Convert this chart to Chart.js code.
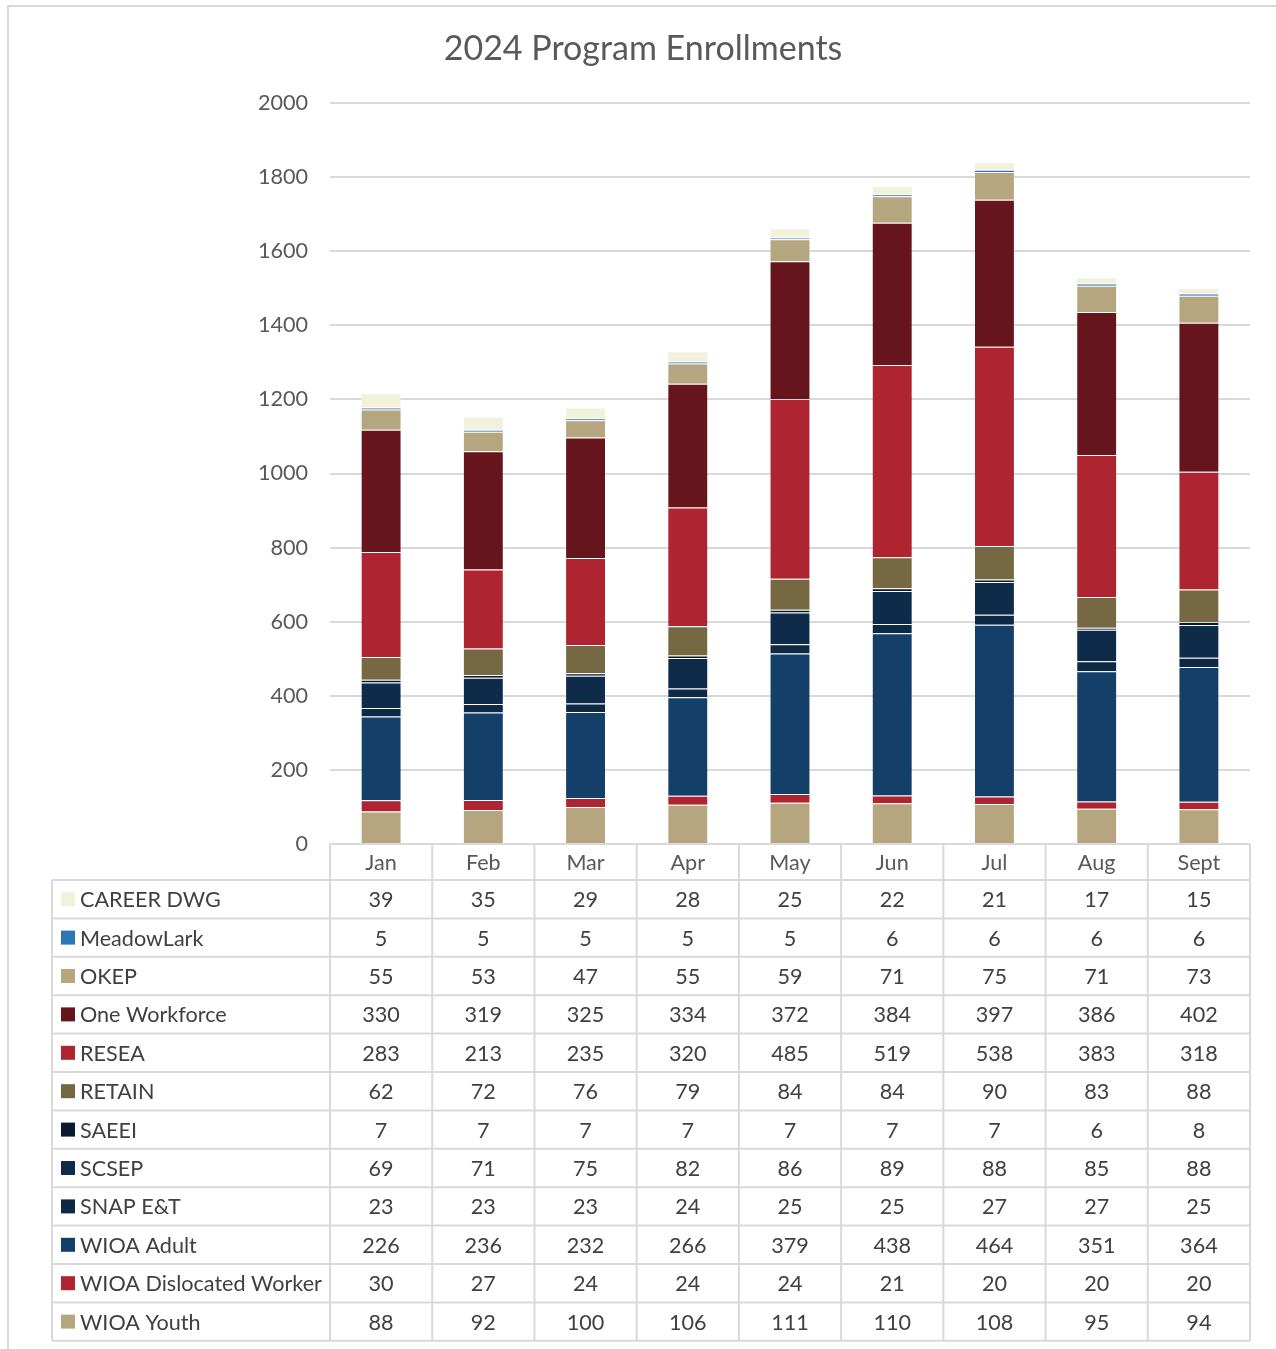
<!DOCTYPE html>
<html>
<head>
<meta charset="utf-8">
<title>2024 Program Enrollments</title>
<script src="https://cdn.jsdelivr.net/npm/chart.js"></script>
<style>
    body { margin: 0; background: #fff; }
    #wrap { position: relative; width: 1276px; height: 1349px; }
    #frame { position: absolute; left: 7px; top: 5px; right: 0; bottom: 0;
             border-left: 2px solid #d9d9d9; border-top: 2px solid #d9d9d9; pointer-events: none; }
</style>
</head>
<body>
<div id="wrap">
    <canvas id="enrollChart"></canvas>
    <div id="frame"></div>
</div>
<script>
var months = ['Jan', 'Feb', 'Mar', 'Apr', 'May', 'Jun', 'Jul', 'Aug', 'Sept'];

var careerDwg = [39, 35, 29, 28, 25, 22, 21, 17, 15];
var meadowLark = [5, 5, 5, 5, 5, 6, 6, 6, 6];
var okep = [55, 53, 47, 55, 59, 71, 75, 71, 73];
var oneWorkforce = [330, 319, 325, 334, 372, 384, 397, 386, 402];
var resea = [283, 213, 235, 320, 485, 519, 538, 383, 318];
var retain = [62, 72, 76, 79, 84, 84, 90, 83, 88];
var saeei = [7, 7, 7, 7, 7, 7, 7, 6, 8];
var scsep = [69, 71, 75, 82, 86, 89, 88, 85, 88];
var snapEt = [23, 23, 23, 24, 25, 25, 27, 27, 25];
var wioaAdult = [226, 236, 232, 266, 379, 438, 464, 351, 364];
var wioaDislocated = [30, 27, 24, 24, 24, 21, 20, 20, 20];
var wioaYouth = [88, 92, 100, 106, 111, 110, 108, 95, 94];

var yTicks = [0, 200, 400, 600, 800, 1000, 1200, 1400, 1600, 1800, 2000];

// stacked bottom -> top
var series = [
    { label: 'WIOA Youth', data: wioaYouth, color: '#b5a67f' },
    { label: 'WIOA Dislocated Worker', data: wioaDislocated, color: '#ae2431' },
    { label: 'WIOA Adult', data: wioaAdult, color: '#143f69' },
    { label: 'SNAP E&T', data: snapEt, color: '#0e2946' },
    { label: 'SCSEP', data: scsep, color: '#0f2b4a' },
    { label: 'SAEEI', data: saeei, color: '#0a1a2e' },
    { label: 'RETAIN', data: retain, color: '#766843' },
    { label: 'RESEA', data: resea, color: '#ae2431' },
    { label: 'One Workforce', data: oneWorkforce, color: '#66151d' },
    { label: 'OKEP', data: okep, color: '#b5a67f' },
    { label: 'MeadowLark', data: meadowLark, color: '#2e75b6' },
    { label: 'CAREER DWG', data: careerDwg, color: '#f2f1dc' }
];

var FONT = 'Lato, "Open Sans", sans-serif';
var GRID = '#d9d9d9';

// data table under the x axis, rows listed top -> bottom
var dataTable = {
    id: 'dataTable',
    afterDraw: function (chart) {
        var ctx = chart.ctx;
        var x = chart.scales.x;
        var rows = chart.data.datasets.slice().reverse();
        var rowH = 38.4;
        var headTop = x.top;
        var headBottom = x.bottom;
        var bottom = headBottom + rows.length * rowH;
        var left = 52;
        var step = (x.right - x.left) / months.length;

        ctx.save();
        ctx.strokeStyle = GRID;
        ctx.lineWidth = 2;
        ctx.beginPath();
        for (var i = 0; i <= rows.length; i++) {
            var yy = headBottom + i * rowH;
            ctx.moveTo(left, yy);
            ctx.lineTo(x.right, yy);
        }
        for (var k = 0; k <= months.length; k++) {
            var xx = x.left + k * step;
            ctx.moveTo(xx, headTop);
            ctx.lineTo(xx, bottom);
        }
        ctx.moveTo(left, headBottom);
        ctx.lineTo(left, bottom);
        ctx.stroke();

        ctx.font = '21.6px ' + FONT;
        ctx.textBaseline = 'middle';
        rows.forEach(function (ds, r) {
            var cy = headBottom + r * rowH + rowH / 2;
            ctx.fillStyle = ds.backgroundColor;
            ctx.fillRect(61, cy - 7, 14, 14);
            ctx.fillStyle = '#404040';
            ctx.textAlign = 'left';
            ctx.fillText(ds.label, 80, cy + 1);
            ctx.textAlign = 'center';
            ds.data.forEach(function (v, j) {
                ctx.fillText(String(v), x.getPixelForValue(j), cy + 1);
            });
        });
        ctx.restore();
    }
};

var titleSize = 34;
var titleTop = 29;

var ctx = document.getElementById('enrollChart').getContext('2d');
window.enrollChart = new Chart(ctx, {
    type: 'bar',
    data: {
        labels: months,
        datasets: series.map(function (s) {
            return {
                label: s.label,
                data: s.data,
                backgroundColor: s.color,
                borderColor: 'rgba(255,255,255,0.1)',
                borderWidth: 1,
                barPercentage: 0.4,
                categoryPercentage: 1
            };
        })
    },
    options: {
        responsive: true,
        maintainAspectRatio: false,
        animation: false,
        layout: {
            padding: { left: 36, right: 26, top: 0, bottom: 469 }
        },
        plugins: {
            legend: { display: false },
            tooltip: { enabled: false },
            title: {
                display: true,
                text: '2024 Program Enrollments',
                color: '#595959',
                font: { family: FONT, size: titleSize, weight: 'normal' },
                padding: { top: titleTop, bottom: 103 - titleTop - titleSize * 1.2 }
            }
        },
        scales: {
            x: {
                stacked: true,
                grid: { display: false, drawTicks: false },
                border: { display: false },
                ticks: {
                    color: '#595959',
                    font: { family: FONT, size: 21.6 },
                    padding: 6
                },
                afterFit: function (s) { s.height = 36; }
            },
            y: {
                stacked: true,
                min: 0,
                max: 2000,
                afterBuildTicks: function (s) {
                    s.ticks = yTicks.map(function (v) { return { value: v }; });
                },
                grid: { color: GRID, lineWidth: 2, drawTicks: false },
                border: { display: false },
                ticks: {
                    color: '#595959',
                    font: { family: FONT, size: 21.6 },
                    padding: 22,
                    callback: function (v) { return String(v); }
                },
                afterFit: function (s) { s.width = 294; }
            }
        }
    },
    plugins: [dataTable]
});
</script>
</body>
</html>
